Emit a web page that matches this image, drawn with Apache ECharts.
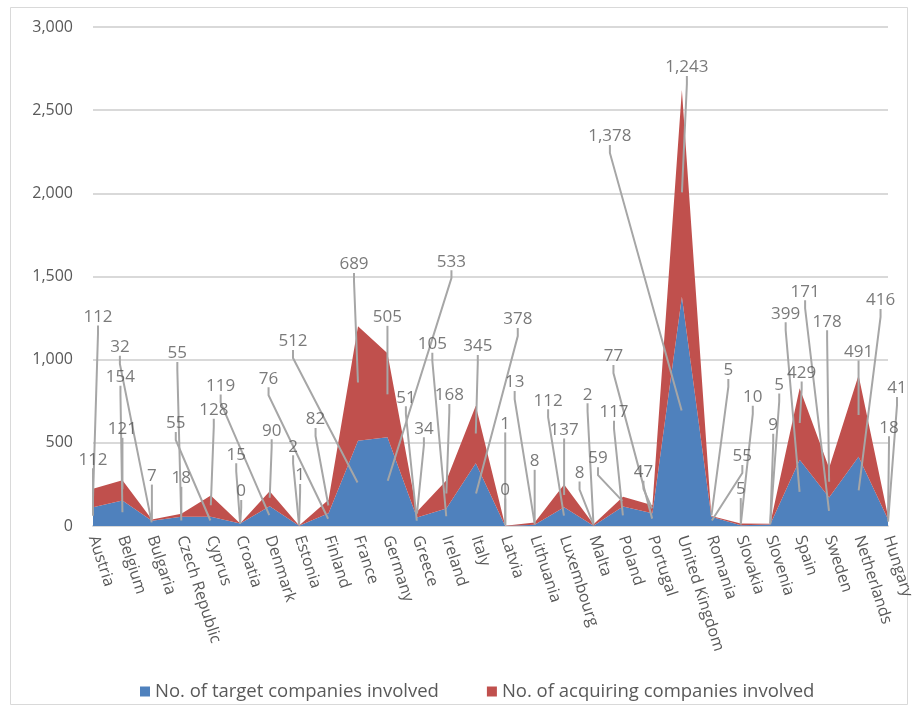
<!DOCTYPE html>
<html>
<head>
<meta charset="utf-8">
<script src="https://cdn.jsdelivr.net/npm/echarts@6/dist/echarts.min.js"></script>
<style>
  html, body { margin: 0; padding: 0; background: #ffffff; }
  #chart { width: 918px; height: 712px; }
</style>
</head>
<body>
<div id="chart"></div>
<script>
// Countries on the category axis
const countries = [
  'Austria', 'Belgium', 'Bulgaria', 'Czech Republic', 'Cyprus', 'Croatia', 'Denmark',
  'Estonia', 'Finland', 'France', 'Germany', 'Greece', 'Ireland', 'Italy', 'Latvia',
  'Lithuania', 'Luxembourg', 'Malta', 'Poland', 'Portugal', 'United Kingdom', 'Romania',
  'Slovakia', 'Slovenia', 'Spain', 'Sweden', 'Netherlands', 'Hungary'
];

// No. of target companies involved
const targetCompanies = [
  112, 154, 32, 55, 55, 15, 119, 2, 76, 512, 533, 51, 105, 378, 0,
  8, 112, 2, 117, 77, 1378, 55, 5, 9, 399, 171, 416, 41
];

// No. of acquiring companies involved
const acquiringCompanies = [
  112, 121, 7, 18, 128, 0, 90, 1, 82, 689, 505, 34, 168, 345, 1,
  13, 137, 8, 59, 47, 1243, 5, 10, 5, 429, 178, 491, 18
];

const seriesNames = ['No. of target companies involved', 'No. of acquiring companies involved'];

// Value axis range
const yMin = 0;
const yMax = 3000;
const yStep = 500;

// Callout offsets (dx, dy in px) from the middle of each band to its label
const targetLabelShift = [
  [0, -57], [-2, -136], [-32, -176], [-4, -168], [-35, -98], [-4, -70], [-49, -130],
  [-6, -79], [-60, -141], [-65, -142], [64, -220], [-11, -124], [-14, -173], [42, -175],
  [0, -36], [0, -64], [-16, -116], [-6, -131], [-9, -104], [-39, -163], [-72, -275],
  [31, -65], [0, -36], [3, -100], [-14, -179], [-24, -220], [22, -191], [9, -134]
];
const acquiringLabelShift = [
  [5, -181], [0, -61], [0, -44], [0, -37], [3, -96], [1, -32], [2, -68],
  [1, -50], [-13, -87], [-4, -119], [0, -78], [7, -86], [3, -99], [2, -88],
  [0, -102], [-20, -141], [0, -66], [-14, -52], [-25, -43], [-9, -37], [5, -126],
  [17, -146], [12, -127], [9, -139], [2, -51], [-2, -161], [0, -64], [1, -90]
];

const FONT = '"Open Sans", "DejaVu Sans", sans-serif';
const TEXT = '#595959';
const BLUE = '#4f81bd';
const RED = '#c0504d';

const fmt = v => Number(v).toLocaleString('en-US');

// Label anchors sit in the middle of each stacked band
const targetAnchors = targetCompanies.map((v, i) => [i, v / 2, v]);
const acquiringAnchors = acquiringCompanies.map((v, i) => [i, targetCompanies[i] + v / 2, v]);

function calloutSeries(name, data, shifts) {
  return {
    type: 'scatter',
    name: name,
    data: data,
    symbolSize: 2,
    silent: true,
    z: 5,
    itemStyle: { color: 'rgba(0,0,0,0)' },
    label: {
      show: true,
      position: 'inside',
      formatter: p => fmt(p.value[2]),
      color: TEXT,
      fontSize: 17,
      fontFamily: FONT
    },
    labelLine: {
      show: true,
      length2: 8,
      lineStyle: { color: '#a6a6a6', width: 2 }
    },
    labelLayout: p => ({
      dx: shifts[p.dataIndex][0],
      dy: shifts[p.dataIndex][1],
      hideOverlap: false
    })
  };
}

const chart = echarts.init(document.getElementById('chart'), null, { renderer: 'canvas' });

chart.setOption({
  animation: false,
  backgroundColor: '#ffffff',
  graphic: [{
    type: 'rect',
    shape: { x: 10.5, y: 7.5, width: 897, height: 697 },
    style: { fill: 'none', stroke: '#d9d9d9', lineWidth: 1 },
    silent: true,
    z: -1
  }],
  grid: { left: 93, right: 30, top: 27, bottom: 186, containLabel: false },
  legend: {
    data: seriesNames,
    left: 135,
    top: 677,
    icon: 'rect',
    itemWidth: 10,
    itemHeight: 10,
    itemGap: 48,
    textStyle: { color: TEXT, fontSize: 18.5, fontFamily: FONT }
  },
  xAxis: {
    type: 'category',
    data: countries,
    boundaryGap: false,
    axisLine: { lineStyle: { color: '#d9d9d9', width: 2 } },
    axisTick: { show: false },
    axisLabel: {
      interval: 0,
      rotate: -72,
      margin: 10,
      color: TEXT,
      fontSize: 16,
      fontFamily: FONT
    }
  },
  yAxis: {
    type: 'value',
    min: yMin,
    max: yMax,
    interval: yStep,
    axisLine: { show: false },
    axisTick: { show: false },
    splitLine: { lineStyle: { color: '#d9d9d9', width: 2 } },
    axisLabel: {
      margin: 20,
      color: TEXT,
      fontSize: 16,
      fontFamily: FONT,
      formatter: v => fmt(v)
    }
  },
  series: [
    {
      type: 'line',
      name: seriesNames[0],
      stack: 'total',
      data: targetCompanies,
      symbol: 'none',
      showSymbol: false,
      lineStyle: { width: 0 },
      itemStyle: { color: BLUE },
      areaStyle: { color: BLUE, opacity: 1 }
    },
    {
      type: 'line',
      name: seriesNames[1],
      stack: 'total',
      data: acquiringCompanies,
      symbol: 'none',
      showSymbol: false,
      lineStyle: { width: 0 },
      itemStyle: { color: RED },
      areaStyle: { color: RED, opacity: 1 }
    },
    calloutSeries('target labels', targetAnchors, targetLabelShift),
    calloutSeries('acquiring labels', acquiringAnchors, acquiringLabelShift)
  ]
});
</script>
</body>
</html>
